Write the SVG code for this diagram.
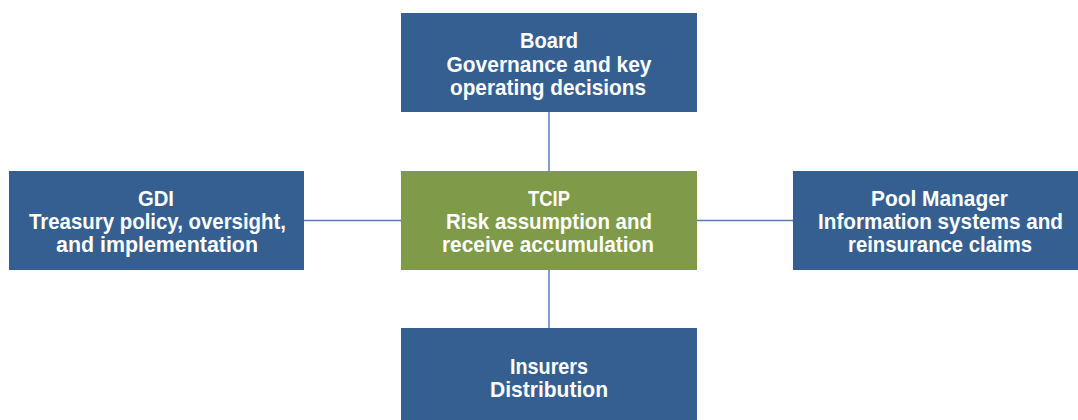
<svg xmlns="http://www.w3.org/2000/svg" width="1078" height="420" viewBox="0 0 1078 420">
<style>
.blue{fill:#365F91}
.green{fill:#7F9A48}
.t{font-family:"Liberation Sans",Arial,sans-serif;font-weight:bold;font-size:22px;fill:#ffffff;text-anchor:middle}
.c{stroke:#5B7DB1;stroke-width:1.5;fill:none}
</style>
<rect width="1078" height="420" fill="#ffffff"/>
<g id="connectors">
<line class="c" x1="549" y1="112" x2="549" y2="171"/>
<line class="c" x1="549" y1="270" x2="549" y2="328"/>
<line class="c" x1="304" y1="220.5" x2="401" y2="220.5"/>
<line class="c" x1="697" y1="220.5" x2="793" y2="220.5"/>
</g>
<g id="board">
<rect class="blue" x="401" y="13" width="296" height="99"/>
<text class="t" x="549" y="48" textLength="58" lengthAdjust="spacingAndGlyphs">Board</text>
<text class="t" x="549" y="72" textLength="205" lengthAdjust="spacingAndGlyphs">Governance and key</text>
<text class="t" x="548" y="95" textLength="196" lengthAdjust="spacingAndGlyphs">operating decisions</text>
</g>
<g id="gdi">
<rect class="blue" x="9" y="171" width="295" height="99"/>
<text class="t" x="156" y="206" textLength="36" lengthAdjust="spacingAndGlyphs">GDI</text>
<text class="t" x="157.5" y="229" textLength="257" lengthAdjust="spacingAndGlyphs">Treasury policy, oversight,</text>
<text class="t" x="157" y="252" textLength="202" lengthAdjust="spacingAndGlyphs">and implementation</text>
</g>
<g id="tcip">
<rect class="green" x="401" y="171" width="296" height="99"/>
<text class="t" x="549" y="206" textLength="42" lengthAdjust="spacingAndGlyphs">TCIP</text>
<text class="t" x="549" y="229" textLength="206" lengthAdjust="spacingAndGlyphs">Risk assumption and</text>
<text class="t" x="548" y="252" textLength="212" lengthAdjust="spacingAndGlyphs">receive accumulation</text>
</g>
<g id="pool">
<rect class="blue" x="793" y="171" width="285" height="99"/>
<text class="t" x="939.5" y="206" textLength="137" lengthAdjust="spacingAndGlyphs">Pool Manager</text>
<text class="t" x="940.5" y="229" textLength="245" lengthAdjust="spacingAndGlyphs">Information systems and</text>
<text class="t" x="940" y="252" textLength="184" lengthAdjust="spacingAndGlyphs">reinsurance claims</text>
</g>
<g id="insurers">
<rect class="blue" x="401" y="328" width="296" height="92"/>
<text class="t" x="549" y="374" textLength="78" lengthAdjust="spacingAndGlyphs">Insurers</text>
<text class="t" x="549" y="397" textLength="118" lengthAdjust="spacingAndGlyphs">Distribution</text>
</g>
</svg>
